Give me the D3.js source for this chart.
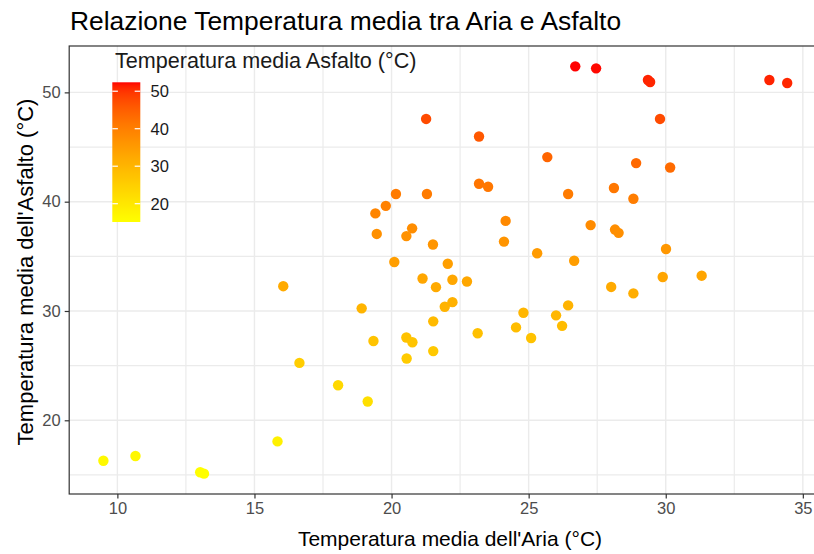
<!DOCTYPE html>
<html>
<head>
<meta charset="utf-8">
<script src="https://cdn.jsdelivr.net/npm/d3@7/dist/d3.min.js"></script>
<style>
  html, body { margin: 0; padding: 0; background: #ffffff; }
  svg { display: block; font-family: "Liberation Sans", Arial, sans-serif; }
</style>
</head>
<body>
<svg id="chart" width="814" height="554"></svg>
<script>
// Mean air temperature (°C) per observation
const airTemp = [
  9.49, 10.66, 13.02, 13.16, 15.84, 16.05, 16.64, 18.05, 18.91, 19.13,
  19.34, 19.41, 19.46, 19.79, 20.16, 20.10, 20.54, 20.75, 20.54, 20.76,
  20.55, 21.13, 21.29, 21.51, 21.52, 21.52, 21.62, 22.05, 22.22, 21.94,
  22.22, 22.75, 23.14, 21.26, 23.19, 23.19, 23.52, 24.16, 24.10, 24.54,
  24.81, 25.09, 25.31, 25.68, 26.00, 26.22, 26.44, 26.44, 26.66, 26.70,
  27.46, 27.26, 28.01, 28.11, 28.15, 28.28, 28.82, 28.82, 28.92, 29.35,
  29.43, 29.79, 29.89, 30.01, 30.16, 31.31, 33.78, 34.43
];

// Mean asphalt temperature (°C) for the same observations
const asphaltTemp = [
  16.30, 16.73, 15.25, 15.12, 18.07, 32.27, 25.25, 23.21, 30.24, 21.72,
  27.25, 38.93, 37.05, 39.62, 40.70, 34.48, 36.85, 37.56, 27.57, 27.14,
  25.65, 32.97, 40.70, 36.08, 29.05, 26.33, 32.18, 34.32, 32.86, 30.39,
  30.81, 32.70, 27.96, 47.57, 45.96, 41.64, 41.37, 38.24, 36.35, 28.50,
  29.84, 27.53, 35.28, 44.08, 29.60, 28.64, 30.51, 40.70, 34.60, 52.38,
  52.20, 37.86, 32.20, 41.25, 37.45, 37.15, 40.27, 31.61, 43.53, 51.13,
  50.95, 47.57, 33.11, 35.67, 43.13, 33.23, 51.13, 50.86
];

const xTicks = [10, 15, 20, 25, 30, 35];
const yTicks = [20, 30, 40, 50];
const xMinor = [12.5, 17.5, 22.5, 27.5, 32.5];
const yMinor = [15, 25, 35, 45];
const legendTicks = [20, 30, 40, 50];

const titleText = "Relazione Temperatura media tra Aria e Asfalto";
const xTitle = "Temperatura media dell'Aria (°C)";
const yTitle = "Temperatura media dell'Asfalto (°C)";
const legendTitle = "Temperatura media Asfalto (°C)";

const points = airTemp.map((a, i) => ({ air: a, asphalt: asphaltTemp[i] }));

// Panel geometry (the panel runs slightly past the right edge of the page)
const panel = { left: 69.2, top: 46, right: 821.4, bottom: 494 };

function expand(ext, f) {
  const pad = (ext[1] - ext[0]) * f;
  return [ext[0] - pad, ext[1] + pad];
}

const x = d3.scaleLinear()
  .domain(expand(d3.extent(airTemp), 0.05))
  .range([panel.left, panel.right]);
const y = d3.scaleLinear()
  .domain(expand(d3.extent(asphaltTemp), 0.05))
  .range([panel.bottom, panel.top]);

const colorDomain = d3.extent(asphaltTemp);
const color = d3.scaleLinear()
  .domain(colorDomain)
  .range(["#FFFF00", "#FF0000"])
  .interpolate(d3.interpolateLab);

const svg = d3.select("#chart");

// Panel background
svg.append("rect")
  .attr("x", panel.left).attr("y", panel.top)
  .attr("width", panel.right - panel.left).attr("height", panel.bottom - panel.top)
  .attr("fill", "#ffffff");

// Grid lines
const grid = svg.append("g").attr("stroke", "#EBEBEB").attr("fill", "none");
grid.selectAll("line.vminor").data(xMinor).join("line")
  .attr("x1", d => x(d)).attr("x2", d => x(d))
  .attr("y1", panel.top).attr("y2", panel.bottom)
  .attr("stroke-width", 1.2);
grid.selectAll("line.hminor").data(yMinor).join("line")
  .attr("y1", d => y(d)).attr("y2", d => y(d))
  .attr("x1", panel.left).attr("x2", panel.right)
  .attr("stroke-width", 1.2);
grid.selectAll("line.vmajor").data(xTicks).join("line")
  .attr("x1", d => x(d)).attr("x2", d => x(d))
  .attr("y1", panel.top).attr("y2", panel.bottom)
  .attr("stroke-width", 1.4);
grid.selectAll("line.hmajor").data(yTicks).join("line")
  .attr("y1", d => y(d)).attr("y2", d => y(d))
  .attr("x1", panel.left).attr("x2", panel.right)
  .attr("stroke-width", 1.4);

// Legend: colour bar drawn inside the panel, transparent background
const bar = { x: 112.3, y: 82.3, w: 28, h: 139.7 };
const barScale = d3.scaleLinear().domain(colorDomain).range([bar.y + bar.h, bar.y]);

const defs = svg.append("defs");
const grad = defs.append("linearGradient")
  .attr("id", "asfaltoGrad")
  .attr("x1", 0).attr("y1", 1).attr("x2", 0).attr("y2", 0);
d3.range(0, 1.0001, 0.02).forEach(t => {
  grad.append("stop")
    .attr("offset", t)
    .attr("stop-color", color(colorDomain[0] + t * (colorDomain[1] - colorDomain[0])));
});

const legend = svg.append("g");
legend.append("text")
  .attr("x", 115).attr("y", 68.3)
  .attr("font-size", 21.6).attr("fill", "#1a1a1a")
  .text(legendTitle);
legend.append("rect")
  .attr("x", bar.x).attr("y", bar.y).attr("width", bar.w).attr("height", bar.h)
  .attr("fill", "url(#asfaltoGrad)");
legend.selectAll("line.tl").data(legendTicks).join("line")
  .attr("x1", bar.x).attr("x2", bar.x + 5.6)
  .attr("y1", d => barScale(d)).attr("y2", d => barScale(d))
  .attr("stroke", "#ffffff").attr("stroke-width", 1.2);
legend.selectAll("line.tr").data(legendTicks).join("line")
  .attr("x1", bar.x + bar.w - 5.6).attr("x2", bar.x + bar.w)
  .attr("y1", d => barScale(d)).attr("y2", d => barScale(d))
  .attr("stroke", "#ffffff").attr("stroke-width", 1.2);
legend.selectAll("text.lab").data(legendTicks).join("text")
  .attr("x", 150.5).attr("y", d => barScale(d)).attr("dy", "0.36em")
  .attr("font-size", 16.5).attr("fill", "#1a1a1a")
  .text(d => d);

// Points
svg.append("g").selectAll("circle").data(points).join("circle")
  .attr("cx", d => x(d.air))
  .attr("cy", d => y(d.asphalt))
  .attr("r", 5.2)
  .attr("fill", d => color(d.asphalt));

// Panel border
svg.append("rect")
  .attr("x", panel.left).attr("y", panel.top)
  .attr("width", panel.right - panel.left).attr("height", panel.bottom - panel.top)
  .attr("fill", "none").attr("stroke", "#333333").attr("stroke-width", 1.2);

// Axes
const xAxis = d3.axisBottom(x).tickValues(xTicks).tickSize(4.5).tickPadding(4).tickFormat(d3.format("d"));
const yAxis = d3.axisLeft(y).tickValues(yTicks).tickSize(4.5).tickPadding(4).tickFormat(d3.format("d"));

const gx = svg.append("g").attr("transform", `translate(0,${panel.bottom})`).call(xAxis);
const gy = svg.append("g").attr("transform", `translate(${panel.left},0)`).call(yAxis);
[gx, gy].forEach(g => {
  g.select(".domain").remove();
  g.selectAll(".tick line").attr("stroke", "#333333").attr("stroke-width", 1.2);
  g.selectAll(".tick text")
    .attr("font-family", "Liberation Sans, Arial, sans-serif")
    .attr("font-size", 16.5).attr("fill", "#4D4D4D");
});

// Titles
svg.append("text")
  .attr("x", 70).attr("y", 29.5)
  .attr("font-size", 26.4).attr("fill", "#000000")
  .text(titleText);

svg.append("text")
  .attr("x", 450).attr("y", 546)
  .attr("text-anchor", "middle")
  .attr("font-size", 21).attr("fill", "#000000")
  .text(xTitle);

svg.append("text")
  .attr("transform", `translate(33,272) rotate(-90)`)
  .attr("text-anchor", "middle")
  .attr("font-size", 22).attr("fill", "#000000")
  .text(yTitle);
</script>
</body>
</html>
